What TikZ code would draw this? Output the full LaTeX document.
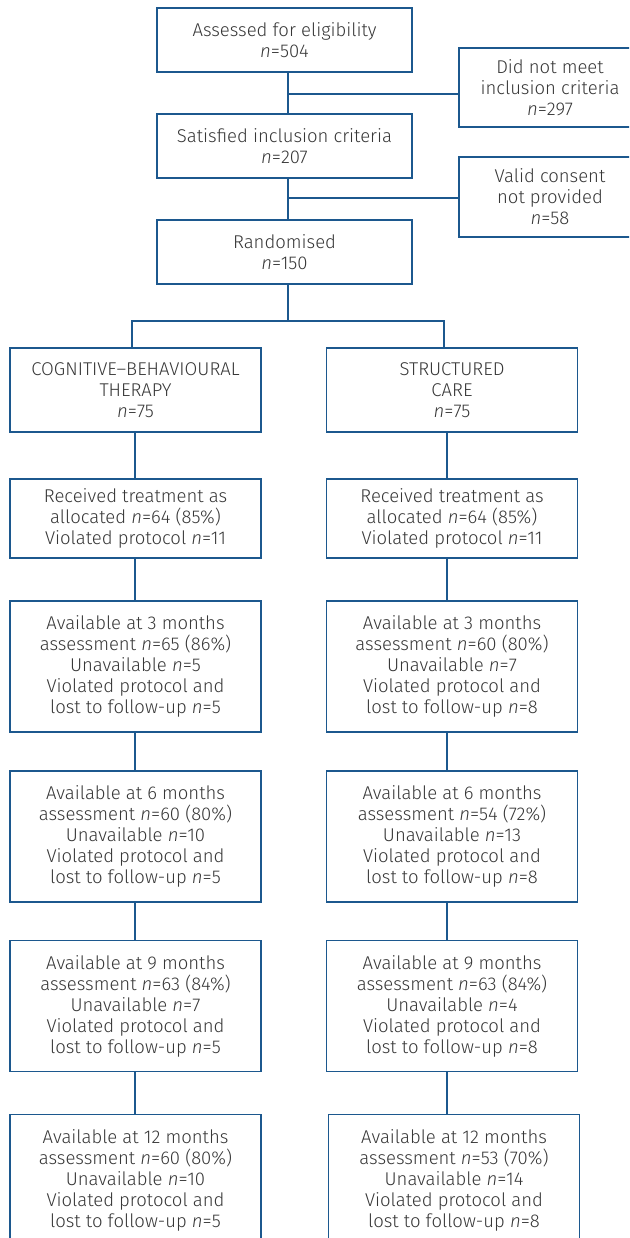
\documentclass[tikz,border=0pt]{standalone}
\usepackage{fontspec}
\setmainfont{Fira Sans}[UprightFont={* Light},ItalicFont={* Light Italic}]
\definecolor{lineblue}{RGB}{28,88,142}
\definecolor{txtgray}{RGB}{55,55,55}
\newcommand{\nn}{\textit{n}}
\begin{document}
\begin{tikzpicture}[x=1pt,y=-1pt,
  fbox/.style={draw=lineblue,line width=1.8pt,rectangle,align=center,inner sep=0pt,
    text=txtgray,font=\fontsize{18.5}{21}\selectfont},
  topbox/.style={fbox,minimum width=255pt,minimum height=64pt},
  sidebox/.style={fbox,minimum width=182pt,minimum height=80pt},
  colbox/.style={fbox,minimum width=251pt},
  link/.style={draw=lineblue,line width=1.8pt}]
\clip (0,0) rectangle (629,1238);
\useasboundingbox (0,0) rectangle (629,1238);
\fill[white] (0,0) rectangle (629,1238);
% top column
\node[topbox] (assess) at (284.5,40) {Assessed for eligibility\\\nn=504};
\node[topbox] (satis) at (284.5,146) {Satisfied inclusion criteria\\\nn=207};
\node[topbox] (rand) at (284.5,252) {Randomised\\\nn=150};
\node[sidebox,minimum height=79pt] (excl1) at (550,87.5) {Did not meet\\inclusion criteria\\\nn=297};
\node[sidebox] (excl2) at (550,197) {Valid consent\\not provided\\\nn=58};
\coordinate (j1) at (288,94);
\coordinate (j2) at (288,198);
\coordinate (j3) at (288,321);
\coordinate (sl) at (132,321);
\coordinate (sr) at (444,321);
\draw[link] (assess.south -| j1) -- (satis.north -| j1);
\draw[link] (j1) -- (j1 -| excl1.west);
\draw[link] (satis.south -| j2) -- (rand.north -| j2);
\draw[link] (j2) -- (j2 -| excl2.west);
% arms
\node[colbox,minimum height=84pt] (cbt) at (135.5,390) {COGNITIVE–BEHAVIOURAL\\THERAPY\\\nn=75};
\node[colbox,minimum height=84pt] (sc) at (452,390) {STRUCTURED\\CARE\\\nn=75};
\draw[link] (rand.south -| j3) -- (j3);
\draw[link] (sl |- cbt.north) |- (sr) -- (sr |- sc.north);
% left column
\node[colbox,minimum height=79pt] (lrec) at (135.5,518.5) {Received treatment as\\allocated \nn=64 (85\%)\\Violated protocol \nn=11};
\node[colbox,minimum height=131pt] (l3) at (135.5,666.5) {Available at 3 months\\assessment \nn=65 (86\%)\\Unavailable \nn=5\\Violated protocol and\\lost to follow-up \nn=5};
\node[colbox,minimum height=131pt] (l6) at (135.5,836.5) {Available at 6 months\\assessment \nn=60 (80\%)\\Unavailable \nn=10\\Violated protocol and\\lost to follow-up \nn=5};
\node[colbox,minimum height=131pt] (l9) at (135.5,1006) {Available at 9 months\\assessment \nn=63 (84\%)\\Unavailable \nn=7\\Violated protocol and\\lost to follow-up \nn=5};
\node[colbox,minimum height=131pt] (l12) at (135.5,1180) {Available at 12 months\\assessment \nn=60 (80\%)\\Unavailable \nn=10\\Violated protocol and\\lost to follow-up \nn=5};
% right column
\node[colbox,minimum height=79pt] (rrec) at (452,518.5) {Received treatment as\\allocated \nn=64 (85\%)\\Violated protocol \nn=11};
\node[colbox,minimum height=131pt] (r3) at (452,666.5) {Available at 3 months\\assessment \nn=60 (80\%)\\Unavailable \nn=7\\Violated protocol and\\lost to follow-up \nn=8};
\node[colbox,minimum height=131pt] (r6) at (452,836.5) {Available at 6 months\\assessment \nn=54 (72\%)\\Unavailable \nn=13\\Violated protocol and\\lost to follow-up \nn=8};
\node[colbox,minimum height=131pt] (r9) at (452,1006) {Available at 9 months\\assessment \nn=63 (84\%)\\Unavailable \nn=4\\Violated protocol and\\lost to follow-up \nn=8};
\node[colbox,minimum height=131pt] (r12) at (454,1180) {Available at 12 months\\assessment \nn=53 (70\%)\\Unavailable \nn=14\\Violated protocol and\\lost to follow-up \nn=8};
\coordinate (lx) at (135,0);
\coordinate (rx) at (447,0);
\foreach \a/\b in {cbt/lrec,lrec/l3,l3/l6,l6/l9,l9/l12}
  \draw[link] (\a.south -| lx) -- (\b.north -| lx);
\foreach \a/\b in {sc/rrec,rrec/r3,r3/r6,r6/r9,r9/r12}
  \draw[link] (\a.south -| rx) -- (\b.north -| rx);
\end{tikzpicture}
\end{document}
